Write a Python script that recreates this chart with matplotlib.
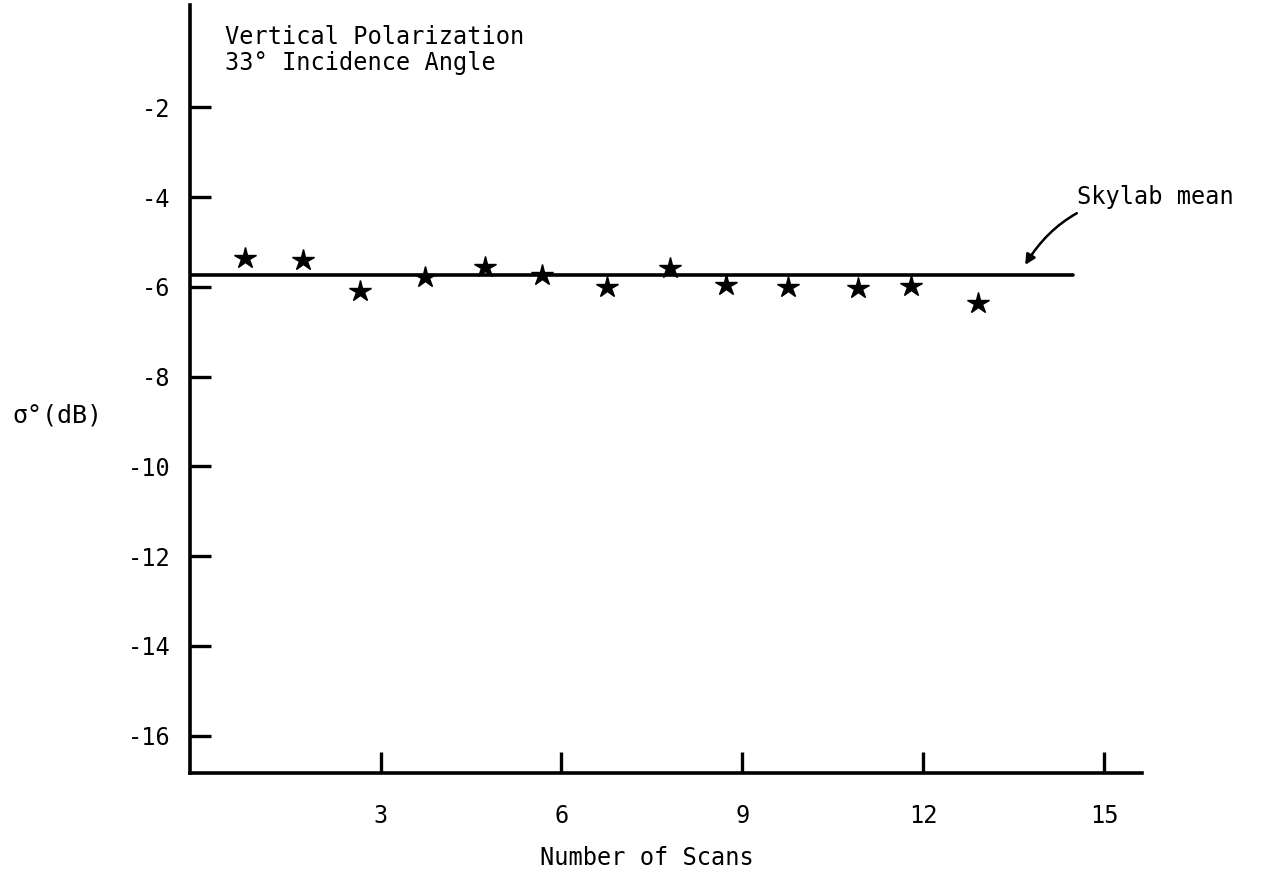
import matplotlib.pyplot as plt
import numpy as np

# scatter of sigma-0 per scan, with the Skylab mean level
scans = [0.75, 1.72, 2.66, 3.74, 4.73, 5.68, 6.75, 7.80, 8.73, 9.76, 10.92, 11.80, 12.91]
sigma0 = [-5.36, -5.40, -6.09, -5.78, -5.56, -5.74, -6.00, -5.58, -5.96, -6.00, -6.02, -5.98, -6.36]
skylab_mean = -5.74
mean_end = 14.48

xticks = [3, 6, 9, 12, 15]
yticks = [-2, -4, -6, -8, -10, -12, -14, -16]

plt.rcParams['font.family'] = ['DejaVu Sans Mono']

fig = plt.figure(figsize=(12.62, 8.71), dpi=100)
ax = fig.add_axes([0.1506, 0.1125, 0.7544, 0.8818])

ax.plot(scans, sigma0, linestyle='none', marker='*', ms=16, color='black')
ax.plot([-0.16, mean_end], [skylab_mean, skylab_mean], color='black', lw=2.6,
        solid_capstyle='round')

ax.set_xlim(-0.16, 15.63)
ax.set_ylim(-16.83, 0.28)

for side in ['top', 'right']:
    ax.spines[side].set_visible(False)
for side in ['left', 'bottom']:
    ax.spines[side].set_linewidth(2.6)

ax.set_xticks(xticks)
ax.set_yticks(yticks)
ax.set_yticklabels([str(v) for v in yticks])
ax.tick_params(axis='both', direction='in', length=15, width=2.4, labelsize=17)
ax.tick_params(axis='x', pad=22)
ax.tick_params(axis='y', pad=14)

ax.set_xlabel('Number of Scans', fontsize=17)
ax.xaxis.set_label_coords(0.48, -0.095)
fig.text(0.010, 0.523, 'σ°(dB)', fontsize=18, va='center', ha='left')

ax.text(0.42, -0.72, 'Vertical Polarization\n33° Incidence Angle', fontsize=17,
        va='center', ha='left', linespacing=1.1)

ax.annotate('Skylab mean', xy=(13.69, -5.51), xytext=(14.55, -4.0),
            fontsize=17, va='center', ha='left',
            arrowprops=dict(arrowstyle='-|>', color='black', lw=1.8,
                            mutation_scale=15, shrinkA=2, shrinkB=0,
                            connectionstyle='arc3,rad=0.3'))

fig.savefig('out.png', dpi=100)
